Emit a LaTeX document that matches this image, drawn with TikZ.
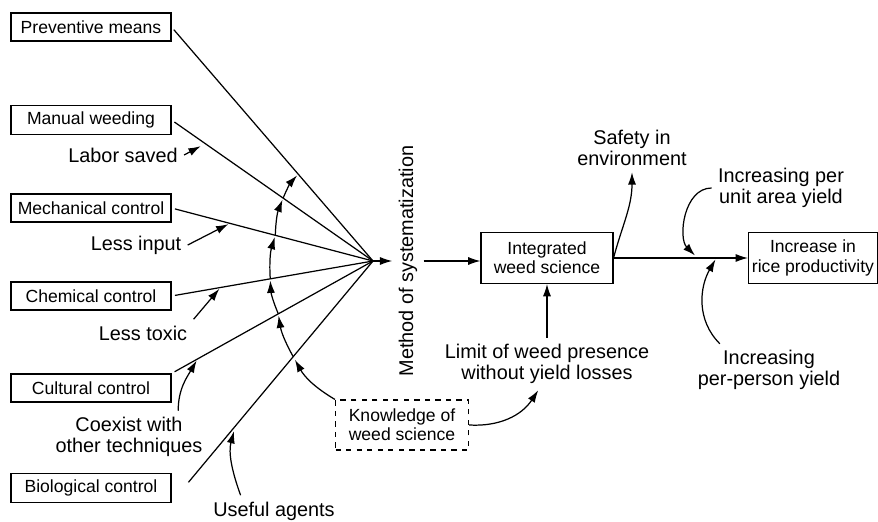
\documentclass[tikz,border=0pt]{standalone}
\usepackage{fontspec}
\setmainfont{Liberation Sans}
\usetikzlibrary{positioning,arrows.meta}

\begin{document}
\begin{tikzpicture}[x=0.02cm,y=0.02cm,line width=0.7pt,>={Latex[length=7pt,width=4.6pt]},
    box/.style={draw,line width=0.6pt,minimum width=3.2cm,minimum height=0.56cm,inner xsep=2pt,font=\fontsize{10}{11}\selectfont},
    bigbox/.style={box,align=center,minimum height=1.02cm},
    lbl/.style={align=center,font=\fontsize{11.3}{12}\selectfont}]
    \useasboundingbox (0,0) rectangle (878,521);
    % control methods
    \node[box] (preventive) at (91,494) {Preventive means};
    \node[box] (manual) at (91,401) {Manual weeding};
    \node[box] (mechanical) at (91,313) {Mechanical control};
    \node[box] (chemical) at (91,225) {Chemical control};
    \node[box] (cultural) at (91,133) {Cultural control};
    \node[box] (biological) at (91,33) {Biological control};
    \coordinate (conv) at (373,260);
    \draw[shorten <=2pt] (preventive.east) -- (conv) coordinate[pos=0.629] (a1);
    \draw[shorten <=2pt] (manual.east) -- (conv) coordinate[pos=0.168] (m0) coordinate[pos=0.554] (a2);
    \draw[shorten <=2pt] (mechanical.east) -- (conv) coordinate[pos=0.29] (m1) coordinate[pos=0.515] (a3);
    \draw[shorten <=2pt] (chemical.east) -- (conv) coordinate[pos=0.243] (m2) coordinate[pos=0.49] (a4);
    \draw[shorten <=2pt] (cultural.north east) -- (conv) coordinate[pos=0.129] (m3) coordinate[pos=0.53] (a5);
    \draw[shorten <=15pt] (biological.south east) -- (conv) coordinate[pos=0.317] (m4) coordinate[pos=0.604] (a6);
    % labels on the lines
    \node[lbl] (labor) at (123,366) {Labor saved};
    \node[lbl] (lessinput) at (136,276) {Less input};
    \node[lbl] (lesstoxic) at (143,188) {Less toxic};
    \node[lbl] (coexist) at (129,84) {Coexist with\\other techniques};
    \node[lbl] (useful) at (274,10) {Useful agents};
    \draw[->,shorten >=3pt] (labor.east) -- (m0);
    \draw[->,shorten >=1pt] (lessinput.east) -- (m1);
    \draw[->,shorten >=1pt] (lesstoxic.north east) -- (m2);
    \draw[->,shorten >=1pt] ([xshift=28pt]coexist.north) to[out=90,in=240] (m3);
    \draw[->,shorten >=3pt] ([xshift=-19pt]useful.north) to[out=110,in=255] (m4);
    % knowledge and the arc
    \node[box,dashed,minimum width=2.66cm,minimum height=1cm,align=center] (knowledge) at (402,96) {Knowledge of\\weed science};
    \draw[->,shorten >=2pt] (knowledge.north west) to[bend left=15] (a6);
    \draw[->,shorten >=1pt] (a6) to[bend left=10] (a5);
    \draw[->,shorten >=1pt] (a5) to[bend left=10] (a4);
    \draw[->,shorten >=1pt] (a4) to[bend left=10] (a3);
    \draw[->,shorten >=1pt] (a3) to[bend left=10] (a2);
    \draw[->,shorten >=1pt] (a2) to[bend left=10] (a1);
    % main flow
    \node[lbl,rotate=90] (method) at (408,260) {Method of systematization};
    \node[bigbox,minimum width=2.64cm] (integrated) at (547,263) {Integrated\\weed science};
    \node[bigbox,minimum width=2.56cm] (increase) at (813,263) {Increase in\\rice productivity};
    \node[lbl] (limit) at (547,157) {Limit of weed presence\\without yield losses};
    \node[lbl] (safety) at (632,373) {Safety in\\environment};
    \node[lbl] (unitarea) at (781,333) {Increasing per\\unit area yield};
    \node[lbl] (perperson) at (769,151) {Increasing\\per-person yield};
    \draw[->] (conv) -- (method.north);
    \draw[->] (method.south) -- (method.south -| integrated.west);
    \draw[->] (integrated) -- (increase) coordinate[pos=0.625] (u1) coordinate[pos=0.765] (u2);
    \draw[->] (limit) -- (integrated);
    \draw[->] (knowledge.east) to[bend right=30] ([xshift=-5pt]limit.south);
    \draw[->] (integrated.east) to[out=75,in=-90] (safety.south);
    \draw[->,shorten >=2pt] (unitarea.west) to[out=180,in=135] (u1);
    \draw[->,shorten >=1pt] ([xshift=-28pt]perperson.north) to[out=135,in=240] (u2);
\end{tikzpicture}
\end{document}
